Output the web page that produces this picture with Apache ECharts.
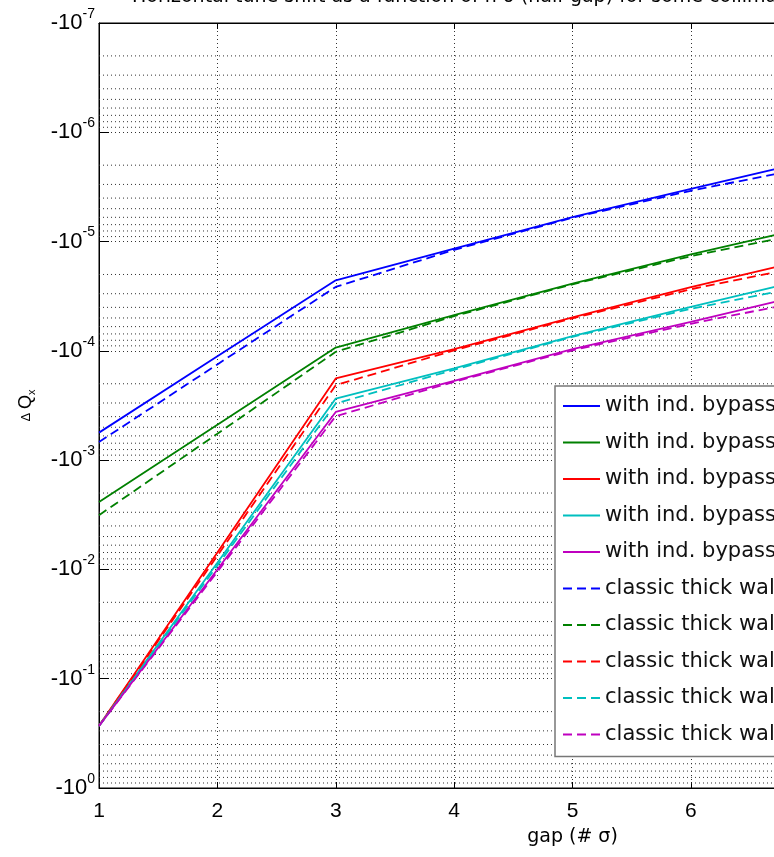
<!DOCTYPE html>
<html>
<head>
<meta charset="utf-8">
<script src="https://cdn.jsdelivr.net/npm/echarts@6/dist/echarts.min.js"></script>
<style>
  html, body { margin: 0; padding: 0; background: #fff; overflow: hidden; }
  /* the original figure is wider than the window; it gets cut at the right edge */
  #chart { width: 1100px; height: 857px; }
</style>
</head>
<body>
<div id="chart"></div>
<script>
// gap in units of sigma
const gaps = [1, 2, 3, 4, 5, 6, 7];

// |dQx| (axis shows them as negative values)
const bypassBlue    = [5.6e-4, 1.12e-4, 2.26e-5, 1.16e-5, 5.96e-6, 3.29e-6, 1.84e-6];
const bypassGreen   = [2.41e-3, 4.74e-4, 9.33e-5, 4.72e-5, 2.42e-5, 1.31e-5, 7.36e-6];
const bypassRed     = [0.27, 7.0e-3, 1.79e-4, 9.64e-5, 4.95e-5, 2.61e-5, 1.45e-5];
const bypassCyan    = [0.27, 8.7e-3, 2.73e-4, 1.45e-4, 7.33e-5, 3.96e-5, 2.18e-5];
const bypassMagenta = [0.27, 1.0e-2, 3.62e-4, 1.88e-4, 9.66e-5, 5.42e-5, 2.99e-5];

const thickBlue    = [6.83e-4, 1.33e-4, 2.6e-5, 1.19e-5, 6.05e-6, 3.43e-6, 2.09e-6];
const thickGreen   = [3.19e-3, 5.73e-4, 1.02e-4, 4.82e-5, 2.46e-5, 1.36e-5, 8.22e-6];
const thickRed     = [0.27, 7.5e-3, 2.06e-4, 9.89e-5, 5.04e-5, 2.73e-5, 1.65e-5];
const thickCyan    = [0.27, 9.2e-3, 3.03e-4, 1.49e-4, 7.43e-5, 4.12e-5, 2.51e-5];
const thickMagenta = [0.27, 1.05e-2, 3.96e-4, 1.92e-4, 9.89e-5, 5.65e-5, 3.44e-5];

const seriesNames = [
  'with ind. bypass, case 1', 'with ind. bypass, case 2', 'with ind. bypass, case 3',
  'with ind. bypass, case 4', 'with ind. bypass, case 5',
  'classic thick wall, case 1', 'classic thick wall, case 2', 'classic thick wall, case 3',
  'classic thick wall, case 4', 'classic thick wall, case 5'
];
const seriesValues = [
  bypassBlue, bypassGreen, bypassRed, bypassCyan, bypassMagenta,
  thickBlue, thickGreen, thickRed, thickCyan, thickMagenta
];
const colors = ['#0000ff', '#008000', '#ff0000', '#00bfbf', '#bf00bf'];

const xMin = 1;
const xMax = 9;
const yMinDecade = -7;
const yMaxDecade = 0;

const font = "'Liberation Sans', Arial, sans-serif";
const wideFont = "'DejaVu Sans', sans-serif";
const gridDots = { type: [1, 3], color: '#333', width: 1 };

const chart = echarts.init(document.getElementById('chart'));

const series = seriesValues.map((vals, i) => ({
  name: seriesNames[i],
  type: 'line',
  z: 3,
  symbol: 'none',
  showSymbol: false,
  color: colors[i % 5],
  lineStyle: {
    width: 1.8,
    color: colors[i % 5],
    type: i < 5 ? 'solid' : [9, 5]
  },
  data: gaps.map((g, j) => [g, vals[j]])
}));

// minor grid lines at 2..9 x 10^n, drawn as flat dotted lines through the axes
for (let d = yMinDecade; d < yMaxDecade; d++) {
  for (let k = 2; k <= 9; k++) {
    const v = k * Math.pow(10, d);
    series.push({
      type: 'line',
      z: 1,
      silent: true,
      symbol: 'none',
      lineStyle: gridDots,
      data: [[xMin, v], [xMax, v]]
    });
  }
}

chart.setOption({
  animation: false,
  backgroundColor: '#fff',
  textStyle: { fontFamily: font },
  title: {
    text: 'Horizontal tune shift as a function of n σ (half gap) for some collimators',
    left: 132,
    top: -12,
    padding: 0,
    textStyle: { fontSize: 19, fontWeight: 'normal', color: '#000', fontFamily: wideFont }
  },
  grid: {
    left: 99, top: 23, right: 54, bottom: 69,
    show: true, borderColor: '#000', borderWidth: 1, backgroundColor: 'transparent'
  },
  legend: {
    data: seriesNames,
    orient: 'vertical',
    left: 555,
    top: 386,
    padding: [9, 10, 11, 7],
    itemWidth: 37,
    itemHeight: 14,
    itemGap: 14.5,
    itemStyle: { opacity: 0 },
    backgroundColor: '#fff',
    borderColor: '#777',
    borderWidth: 1.5,
    textStyle: { fontSize: 21, lineHeight: 22, color: '#111', fontFamily: wideFont }
  },
  xAxis: [{
    type: 'value',
    min: xMin, max: xMax, interval: 1,
    name: 'gap (# σ)',
    nameLocation: 'middle',
    nameGap: 40,
    nameTextStyle: { fontSize: 19, color: '#000', fontFamily: wideFont },
    axisLine: { lineStyle: { color: '#000', width: 1 } },
    axisTick: { inside: true, length: 6, lineStyle: { color: '#000' } },
    axisLabel: { fontSize: 21, color: '#000', margin: 13, fontFamily: font },
    splitLine: { show: true, lineStyle: gridDots }
  }, {
    type: 'value',
    position: 'top',
    min: xMin, max: xMax, interval: 1,
    axisLine: { lineStyle: { color: '#000', width: 1 } },
    axisTick: { inside: true, length: 6, lineStyle: { color: '#000' } },
    axisLabel: { show: false },
    splitLine: { show: false }
  }],
  yAxis: {
    type: 'log',
    logBase: 10,
    min: Math.pow(10, yMinDecade),
    max: Math.pow(10, yMaxDecade),
    splitNumber: 7,
    inverse: true,
    name: '{d|Δ }{q|Q}{s|x}',
    nameLocation: 'middle',
    nameGap: 62,
    nameTextStyle: {
      color: '#000',
      rich: {
        d: { fontSize: 13, color: '#000', fontFamily: font },
        q: { fontSize: 18, color: '#000', fontFamily: font },
        s: { fontSize: 11, color: '#000', fontFamily: font, padding: [10, 0, 0, 0] }
      }
    },
    axisLine: { lineStyle: { color: '#000', width: 1 } },
    axisTick: { inside: true, length: 10, lineStyle: { color: '#000' } },
    axisLabel: {
      margin: 4,
      formatter: function (v) {
        const e = Math.round(Math.log10(v));
        return '{b|-10}{e|' + e + '}';
      },
      rich: {
        b: { fontSize: 22, color: '#000', fontFamily: font },
        e: { fontSize: 14, color: '#000', fontFamily: font, padding: [0, 0, 18, 0] }
      }
    },
    splitLine: { show: true, lineStyle: gridDots }
  },
  series: series
});
</script>
</body>
</html>
